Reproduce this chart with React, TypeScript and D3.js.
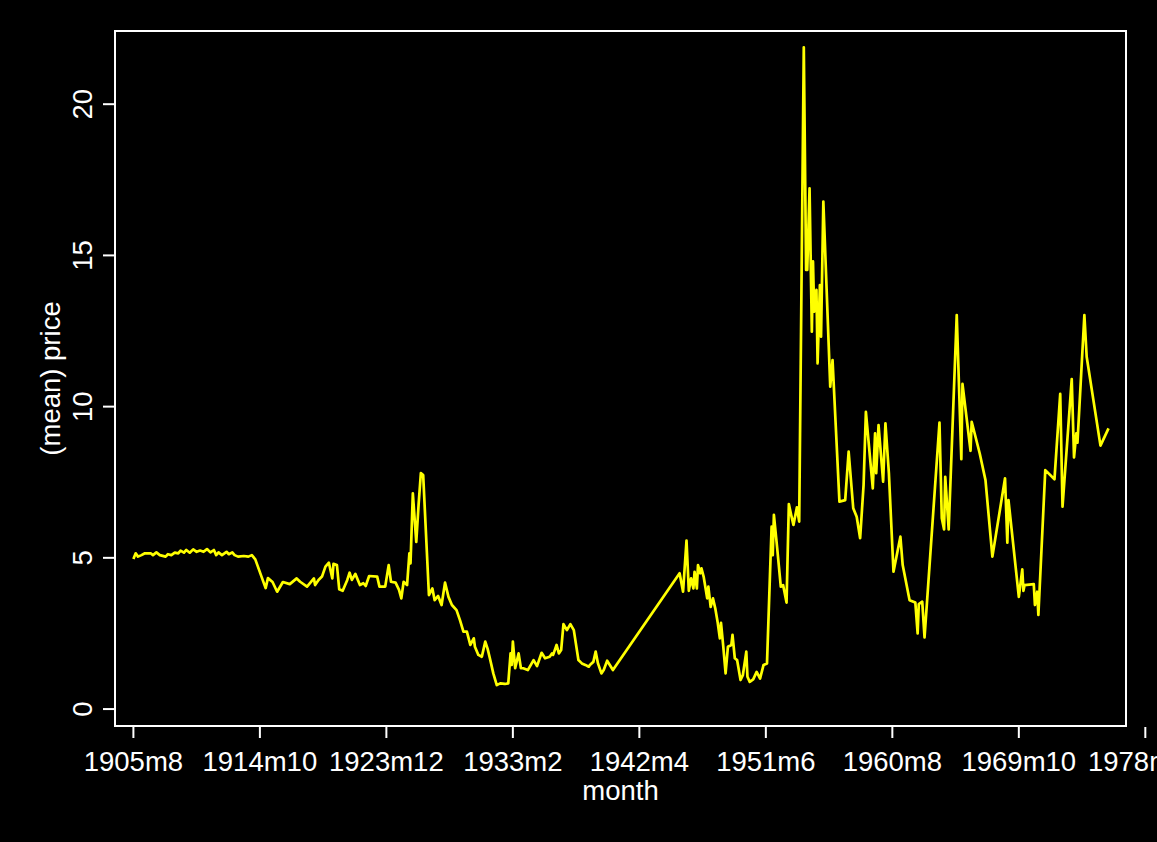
import React from "react";
import * as d3 from "d3";

// Stata monthly dates (months since 1960m1) and mean price
const months: number[] = [
  -653, -651, -649, -646, -643, -638, -636, -633, -630, -625, -623, -620, -617, -614, -612, -609, -607, -604, -601, -598,
  -595, -592, -589, -586, -583, -581, -579, -576, -572, -570, -567, -565, -562, -557, -553, -550, -547, -538, -536, -532,
  -528, -523, -517, -511, -508, -502, -496, -495, -492, -489, -486, -483, -480, -479, -476, -474, -471, -467, -465, -463,
  -460, -456, -453, -451, -448, -441, -439, -434, -431, -429, -425, -422, -420, -418, -415, -413, -412, -410, -407, -405,
  -403, -401, -396, -393, -391, -388, -385, -382, -379, -376, -372, -369, -366, -363, -360, -357, -356, -353, -350, -347,
  -345, -343, -340, -337, -334, -330, -327, -325, -324, -323, -321, -318, -316, -314, -310, -305, -302, -298, -295, -291,
  -289, -288, -285, -283, -281, -279, -276, -273, -270, -266, -263, -260, -257, -256, -253, -251, -249, -246, -244, -241,
  -236, -178, -175, -172, -170, -168, -166, -165, -163, -162, -160, -159, -157, -154, -153, -151, -149, -147, -145, -143,
  -142, -140, -138, -136, -133, -132, -130, -128, -125, -123, -120, -119, -117, -114, -111, -108, -105, -102, -98, -97,
  -96, -93, -90, -88, -85, -83, -81, -79, -76, -74, -70, -68, -67, -65, -63, -62, -61, -59, -58, -56,
  -55, -53, -47, -45, -39, -34, -31, -27, -24, -21, -18, -16, -10, -8, -7, -5, -1, 1, 4, 8,
  14, 16, 22, 27, 29, 30, 33, 35, 48, 50, 52, 53, 56, 63, 67, 68, 75, 76, 83, 88,
  94, 105, 107, 108, 117, 120, 121, 122, 130, 131, 133, 134, 140, 148, 153, 155, 163, 165, 167, 168,
  174, 176, 188, 195,
];

const prices: number[] = [
  4.96, 5.15, 5.04, 5.09, 5.15, 5.15, 5.09, 5.18, 5.09, 5.04, 5.12, 5.09, 5.17, 5.15, 5.24, 5.17, 5.26, 5.17, 5.28, 5.2,
  5.24, 5.2, 5.29, 5.18, 5.26, 5.09, 5.18, 5.09, 5.2, 5.12, 5.18, 5.09, 5.04, 5.06, 5.04, 5.09, 4.95, 4.0, 4.33, 4.2,
  3.88, 4.2, 4.13, 4.32, 4.21, 4.05, 4.32, 4.1, 4.27, 4.38, 4.71, 4.84, 4.32, 4.8, 4.76, 3.96, 3.91, 4.27, 4.51, 4.27,
  4.47, 4.1, 4.16, 4.07, 4.4, 4.38, 4.05, 4.05, 4.76, 4.21, 4.18, 3.94, 3.66, 4.21, 4.1, 5.15, 4.82, 7.13, 5.53, 6.75,
  7.8, 7.74, 3.77, 3.99, 3.6, 3.74, 3.44, 4.18, 3.71, 3.44, 3.27, 2.94, 2.56, 2.56, 2.12, 2.34, 2.06, 1.79, 1.73, 2.23,
  2.0, 1.68, 1.18, 0.79, 0.85, 0.83, 0.85, 1.84, 1.46, 2.23, 1.35, 1.84, 1.35, 1.35, 1.29, 1.62, 1.42, 1.86, 1.68, 1.73,
  1.84, 1.79, 2.12, 1.84, 1.95, 2.81, 2.61, 2.81, 2.61, 1.62, 1.51, 1.46, 1.4, 1.46, 1.56, 1.9, 1.51, 1.18, 1.29, 1.6,
  1.29, 4.49, 3.88, 5.57, 3.91, 4.32, 3.99, 4.54, 3.99, 4.76, 4.49, 4.65, 4.36, 3.66, 4.05, 3.38, 3.66, 3.33, 2.89, 2.34,
  2.85, 2.06, 1.18, 2.06, 2.12, 2.45, 1.68, 1.62, 0.96, 1.12, 1.9, 1.07, 0.9, 0.98, 1.23, 1.01, 1.46, 1.51, 6.03, 5.09,
  6.42, 5.26, 4.05, 4.1, 3.52, 6.78, 6.42, 6.09, 6.67, 6.2, 21.88, 14.52, 14.52, 17.22, 12.48, 14.8, 13.14, 13.86, 11.43, 14.02,
  12.31, 16.78, 10.66, 11.54, 6.86, 6.91, 8.51, 6.64, 6.36, 5.65, 7.41, 9.83, 7.3, 9.12, 7.8, 9.39, 7.52, 9.45, 7.8, 4.54,
  5.7, 4.76, 3.6, 3.52, 2.5, 3.47, 3.55, 2.37, 9.47, 6.31, 5.94, 7.68, 5.94, 13.03, 8.26, 10.75, 8.54, 9.5, 8.45, 7.57,
  5.04, 7.63, 5.5, 6.91, 3.71, 4.62, 3.91, 4.1, 4.13, 3.44, 3.88, 3.11, 7.9, 7.6, 10.42, 6.69, 10.91, 8.32, 9.12, 8.81,
  13.03, 11.65, 8.71, 9.28,
];

const xTicks: number[] = [-653, -543, -433, -323, -213, -103, 7, 117, 227];
const yTicks: number[] = [0, 5, 10, 15, 20];

const W = 1157;
const H = 842;
const box = { left: 115, right: 1126, top: 31, bottom: 726 };
const FONT = "'Liberation Sans', Arial, sans-serif";
const FS = 27.5;

function fmtMonth(m: number): string {
  const y = 1960 + Math.floor(m / 12);
  const mo = m - Math.floor(m / 12) * 12 + 1;
  return `${y}m${mo}`;
}

export default function App() {
  const x = d3.scaleLinear().domain([-669, 210.2]).range([box.left, box.right]);
  const y = d3.scaleLinear().domain([-0.56, 22.42]).range([box.bottom, box.top]);
  const data = months.map((m, i) => [m, prices[i]] as [number, number]);
  const line = d3
    .line<[number, number]>()
    .x((d) => x(d[0]))
    .y((d) => y(d[1]));

  return (
    <svg
      width={W}
      height={H}
      style={{ position: "absolute", left: 0, top: 0, display: "block" }}
      fontFamily={FONT}
    >
      <rect x={0} y={0} width={W} height={H} fill="#000" />
      <path d={line(data) || ""} fill="none" stroke="#ffff00" strokeWidth={2.7} strokeLinejoin="round" />
      <rect
        x={box.left}
        y={box.top}
        width={box.right - box.left}
        height={box.bottom - box.top}
        fill="none"
        stroke="#fff"
        strokeWidth={2}
      />
      {xTicks.map((t) => (
        <g key={t}>
          <line x1={x(t)} x2={x(t)} y1={box.bottom + 1} y2={box.bottom + 12} stroke="#fff" strokeWidth={2} />
          <text x={x(t)} y={771} fill="#fff" fontSize={FS} textAnchor="middle">
            {fmtMonth(t)}
          </text>
        </g>
      ))}
      {yTicks.map((t) => (
        <g key={t}>
          <line x1={box.left - 12} x2={box.left - 1} y1={y(t)} y2={y(t)} stroke="#fff" strokeWidth={2} />
          <text
            transform={`translate(92,${y(t)}) rotate(-90)`}
            fill="#fff"
            fontSize={FS}
            textAnchor="middle"
          >
            {t}
          </text>
        </g>
      ))}
      <text x={(box.left + box.right) / 2} y={800} fill="#fff" fontSize={FS} textAnchor="middle">
        month
      </text>
      <text
        transform={`translate(60,${(box.top + box.bottom) / 2}) rotate(-90)`}
        fill="#fff"
        fontSize={FS}
        textAnchor="middle"
      >
        (mean) price
      </text>
    </svg>
  );
}
